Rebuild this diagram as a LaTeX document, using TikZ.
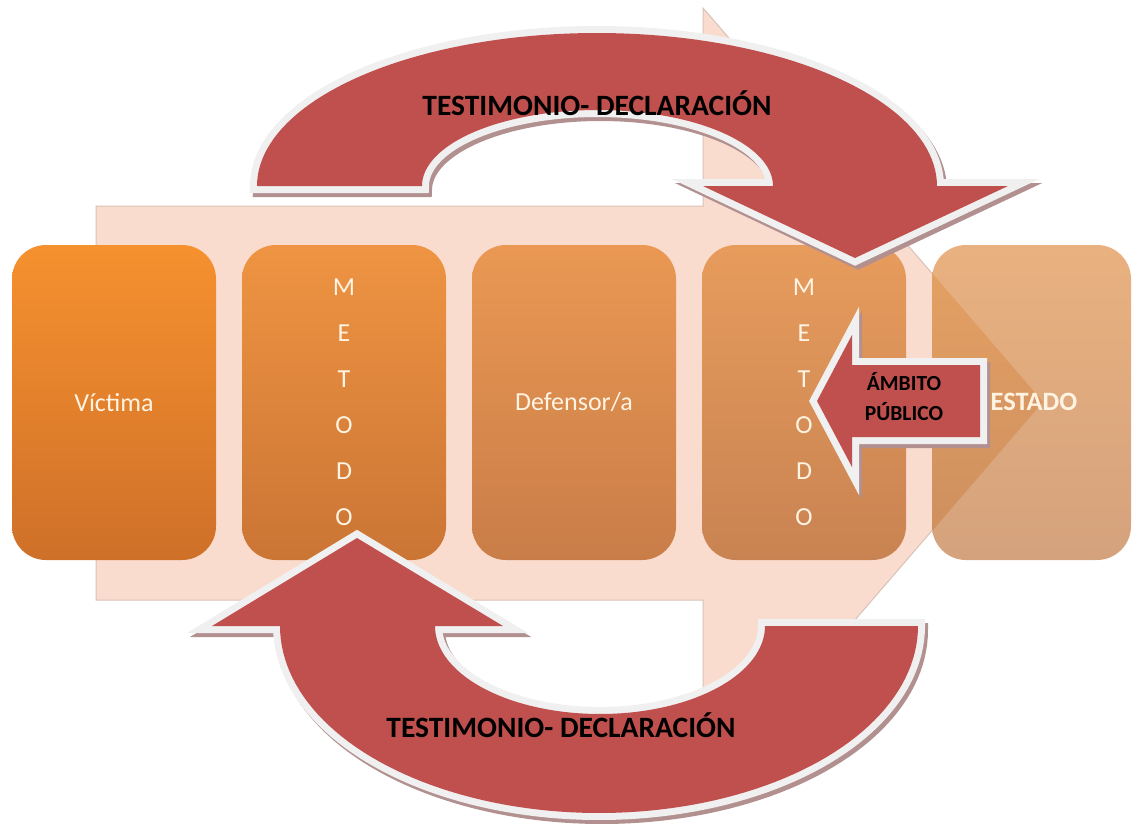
\documentclass[tikz,border=0pt]{standalone}
\usepackage{fontspec}
\setmainfont{Carlito}
\definecolor{peach}{HTML}{FADCCE}
\definecolor{peachedge}{HTML}{D8C2B8}
\definecolor{arrowred}{HTML}{C0504D}
\definecolor{rimwhite}{HTML}{F0F0F0}
\definecolor{rimshadow}{HTML}{B39090}
\definecolor{boxtext}{HTML}{FFF4E3}
\definecolor{boxAt}{HTML}{F6912F}\definecolor{boxAb}{HTML}{CF7029}
\definecolor{boxBt}{HTML}{EE9442}\definecolor{boxBb}{HTML}{CB7535}
\definecolor{boxCt}{HTML}{EA9853}\definecolor{boxCb}{HTML}{C97D48}
\definecolor{boxDt}{HTML}{E79C5C}\definecolor{boxDb}{HTML}{C98352}
\definecolor{boxEt}{HTML}{E9B17F}\definecolor{boxEb}{HTML}{D4A27D}
\definecolor{boxFt}{HTML}{E3A064}\definecolor{boxFb}{HTML}{CF905F}
\tikzset{
  box/.style={rounded corners=34pt, minimum width=204pt, minimum height=315pt,
    inner sep=0pt, text=boxtext, font=\fontsize{26}{46}\selectfont, align=center},
  rim/.style={draw=rimwhite, line width=14pt, line join=miter},
  rimshade/.style={draw=rimshadow, fill=rimshadow, line width=14pt, line join=miter},
  redfill/.style={fill=arrowred},
  biglabel/.style={font=\bfseries\fontsize{29.5}{32}\selectfont, text=black},
}
\def\toppath{(257,186) -- plot[domain=180:0,samples=90] ({597+340*cos(\x)},{186-153*sin(\x)}) -- (1008,186) -- (855,258) -- (703,186) -- plot[domain=0:180,samples=90] ({597.5+175.5*cos(\x)},{186-76*sin(\x)}) -- cycle}
\def\bottompath{(435,626) -- (503,626) -- (357,538) -- (212,626) -- (280,626) -- plot[domain=180:360,samples=90] ({599+319*cos(\x)},{626-187*sin(\x)}) -- (765,626) -- plot[domain=360:180,samples=90] ({600+165*cos(\x)},{626-88*sin(\x)}) -- cycle}
\def\ambitopath{(980,365) -- (852,365) -- (852,335) -- (817,401) -- (852,467) -- (852,437) -- (980,437) -- cycle}
\begin{document}
\begin{tikzpicture}[x=1pt,y=-1pt]
\useasboundingbox (0,0) rectangle (1132,825);
% background arrow
\path[fill=peach, draw=peachedge, line width=1pt]
  (96,206) -- (703,206) -- (703,8) -- (1043,402) -- (703,796) -- (703,600) -- (96,600) -- cycle;
% boxes
\node[box, top color=boxAt, bottom color=boxAb] (victima) at (114,402.5) {Víctima};
\node[box, top color=boxBt, bottom color=boxBb] (metodoA) at (344,402.5) {M\\E\\T\\O\\D\\O};
\node[box, top color=boxCt, bottom color=boxCb] (defensor) at (574,402.5) {Defensor/a};
\node[box, top color=boxDt, bottom color=boxDb] (metodoB) at (804,402.5) {M\\E\\T\\O\\D\\O};
\node[box, top color=boxEt, bottom color=boxEb, minimum width=199pt] (estado) at (1031.5,402.5) {};
\begin{scope}
  \clip[rounded corners=34pt] (932,245) rectangle (1131,560);
  \shade[top color=boxFt, bottom color=boxFb] (932,273) -- (1043,402) -- (932,531) -- cycle;
\end{scope}
\node[font=\bfseries\fontsize{26.5}{30}\selectfont, text=boxtext] (estadolabel) at (1034,402) {ESTADO};
% top arrow
\path[rimshade, shift={(3,4)}] \toppath;
\path[rim] \toppath;
\path[redfill] \toppath;
% bottom arrow
\path[rimshade, shift={(3,4)}] \bottompath;
\path[rim] \bottompath;
\path[redfill] \bottompath;
% ambito arrow
\path[rimshade, shift={(3,4)}] \ambitopath;
\path[rim] \ambitopath;
\path[redfill] \ambitopath;
% labels
\node[biglabel] (toplabel) at (597,103) {TESTIMONIO- DECLARACIÓN};
\node[biglabel] (bottomlabel) at (561,725) {TESTIMONIO- DECLARACIÓN};
\node[font=\bfseries\fontsize{21.5}{30}\selectfont, align=center] (ambito) at (904,397) {ÁMBITO\\PÚBLICO};
\end{tikzpicture}
\end{document}
